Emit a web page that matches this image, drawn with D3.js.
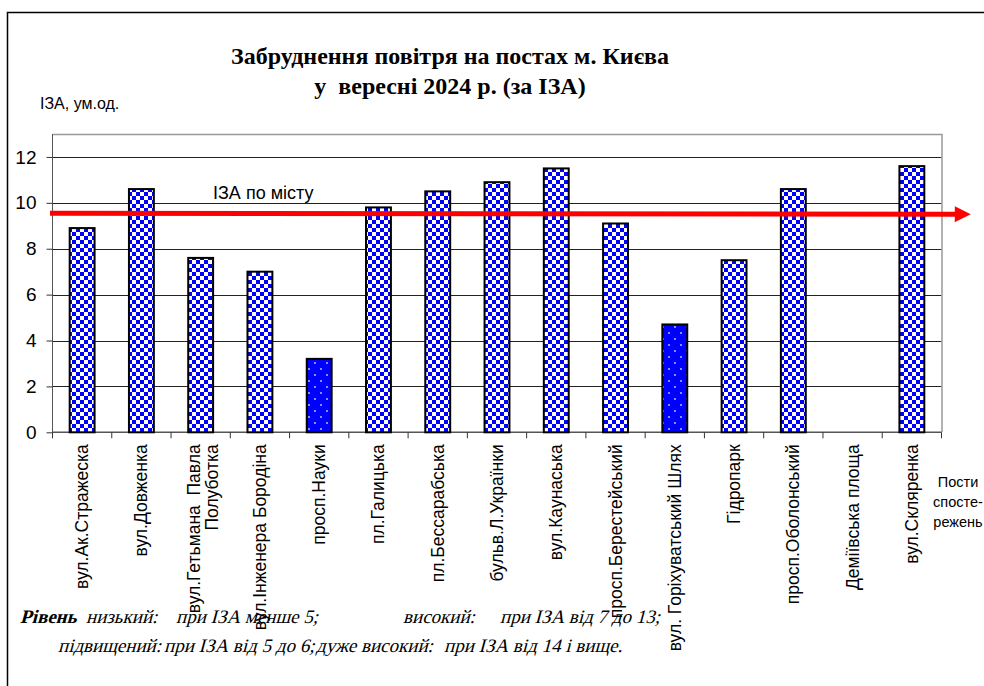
<!DOCTYPE html>
<html lang="uk">
<head>
<meta charset="utf-8">
<title>Забруднення повітря на постах м. Києва</title>
<script src="https://d3js.org/d3.v7.min.js"></script>
<style>
  html, body { margin: 0; padding: 0; background: #fff; }
  svg { display: block; }
  .tl { font-family: "Liberation Sans", Arial, sans-serif; }
  .sr { font-family: "Liberation Serif", "Times New Roman", serif; }
</style>
</head>
<body>
<script>
// пости спостереження
var posts = [
  ["вул.Ак.Стражеска"],
  ["вул.Довженка"],
  ["вул.Гетьмана  Павла", "Полуботка"],
  ["вул.Інженера Бородіна"],
  ["просп.Науки"],
  ["пл.Галицька"],
  ["пл.Бессарабська"],
  ["бульв.Л.Українки"],
  ["вул.Каунаська"],
  ["просп.Берестейський"],
  ["вул. Горіхуватський Шлях"],
  ["Гідропарк"],
  ["просп.Оболонський"],
  ["Деміївська площа"],
  ["вул.Скляренка"]
];
// ІЗА по постах (null - немає даних)
var iza = [8.9, 10.6, 7.6, 7.0, 3.2, 9.8, 10.5, 10.9, 11.5, 9.1, 4.7, 7.5, 10.6, null, 11.6];
// низький рівень - інша штриховка
var lowLevel = [false, false, false, false, true, false, false, false, false, false, true, false, false, false, false];
var izaCity = 9.55;
var yTicks = [0, 2, 4, 6, 8, 10, 12];

var W = 984, H = 686;
var svg = d3.select("body").append("svg").attr("width", W).attr("height", H);

var defs = svg.append("defs");
// шахова клітинка
var chk = defs.append("pattern").attr("id", "chk").attr("patternUnits", "userSpaceOnUse")
  .attr("width", 8).attr("height", 8);
chk.append("rect").attr("width", 8).attr("height", 8).attr("fill", "#fff");
chk.append("rect").attr("width", 4).attr("height", 4).attr("fill", "#0000ff");
chk.append("rect").attr("x", 4).attr("y", 4).attr("width", 4).attr("height", 4).attr("fill", "#0000ff");
// крапки
var dot = defs.append("pattern").attr("id", "dot").attr("patternUnits", "userSpaceOnUse")
  .attr("width", 12).attr("height", 12);
dot.append("rect").attr("width", 12).attr("height", 12).attr("fill", "#0000ff");
dot.append("circle").attr("cx", 3).attr("cy", 3).attr("r", 0.9).attr("fill", "#c8d0ff");
dot.append("circle").attr("cx", 9).attr("cy", 9).attr("r", 0.9).attr("fill", "#c8d0ff");

// рамка
svg.append("path").attr("d", "M7.5,686V12.5H984").attr("fill", "none").attr("stroke", "#000").attr("stroke-width", 1.5);

var x0 = 52.5, x1 = 941.5, yTop = 134;
var x = d3.scaleBand().domain(d3.range(posts.length)).range([x0, x1]).paddingInner(0.58).paddingOuter(0.29);
var y = d3.scaleLinear().domain([0, 13]).range([432.3, yTop]);

// сітка
svg.append("g").selectAll("line").data(yTicks.slice(1)).join("line")
  .attr("x1", x0).attr("x2", x1).attr("y1", d => Math.round(y(d)) + 0.5).attr("y2", d => Math.round(y(d)) + 0.5)
  .attr("stroke", "#222").attr("stroke-width", 1);
// межа області побудови
svg.append("path").attr("d", "M" + x0 + "," + (yTop + 0.5) + "H" + (x1 + 0.5) + "V432")
  .attr("fill", "none").attr("stroke", "#999").attr("stroke-width", 1.5);

// вісь Y
var yAxis = svg.append("g").attr("transform", "translate(" + x0 + ",0)")
  .call(d3.axisLeft(y).tickValues(yTicks).tickSize(6).tickPadding(10));
yAxis.select(".domain").attr("stroke", "#555").attr("d", "M0," + yTop + "V" + y(0));
yAxis.selectAll("line").attr("stroke", "#333");
yAxis.selectAll("text").attr("class", "tl").style("font-size", "19px").attr("fill", "#000");

// вісь X
var bounds = d3.range(posts.length + 1).map(i => x0 + (x1 - x0) * i / posts.length);
svg.append("line").attr("x1", x0).attr("x2", x1).attr("y1", y(0)).attr("y2", y(0)).attr("stroke", "#555").attr("stroke-width", 1.5);
svg.append("g").selectAll("line").data(bounds).join("line")
  .attr("x1", d => d).attr("x2", d => d).attr("y1", y(0)).attr("y2", y(0) + 6)
  .attr("stroke", "#333");

// стовпчики
svg.append("g").selectAll("rect").data(iza.map((v, i) => ({v: v, i: i})).filter(d => d.v !== null)).join("rect")
  .attr("x", d => x(d.i)).attr("width", x.bandwidth())
  .attr("y", d => y(d.v)).attr("height", d => y(0) - y(d.v))
  .attr("fill", d => lowLevel[d.i] ? "url(#dot)" : "url(#chk)")
  .attr("stroke", "#000").attr("stroke-width", 2);

// підписи постів
var lab = svg.append("g").selectAll("text").data(posts).join("text")
  .attr("class", "tl").style("font-size", "17.5px").attr("text-anchor", "end")
  .attr("transform", (d, i) => "translate(" + (x(i) + x.bandwidth() / 2 + (d.length > 1 ? -1 : 6)) + "," + (y(0) + 12) + ") rotate(-90)");
lab.selectAll("tspan").data(d => d).join("tspan")
  .attr("x", 0).attr("dy", (d, j) => j ? 18 : 0)
  .attr("xml:space", "preserve")
  .text(d => d);

// лінія ІЗА по місту
defs.append("marker").attr("id", "arr").attr("viewBox", "0 0 10 10").attr("refX", 2).attr("refY", 5)
  .attr("markerWidth", 3.6).attr("markerHeight", 3.2).attr("orient", "auto").attr("markerUnits", "strokeWidth")
  .append("path").attr("d", "M0,0L10,5L0,10Z").attr("fill", "#ff0000");
svg.append("line").attr("x1", 50).attr("x2", 958).attr("y1", y(izaCity)).attr("y2", y(izaCity) + 1)
  .attr("stroke", "#ff0000").attr("stroke-width", 5).attr("marker-end", "url(#arr)");
svg.append("text").attr("class", "tl").attr("x", 213).attr("y", 199).style("font-size", "18px").text("ІЗА по місту");

// заголовок
var t = svg.append("text").attr("class", "sr").attr("text-anchor", "middle").style("font-size", "24px").style("font-weight", "bold");
t.append("tspan").attr("x", 450).attr("y", 64).text("Забруднення повітря на постах м. Києва");
t.append("tspan").attr("x", 450).attr("y", 94).attr("xml:space", "preserve").text("у  вересні 2024 р. (за ІЗА)");

svg.append("text").attr("class", "tl").attr("x", 40).attr("y", 109).style("font-size", "16px").text("ІЗА, ум.од.");

// назва осі X
var px = svg.append("text").attr("class", "tl").attr("text-anchor", "middle").style("font-size", "14.5px");
["Пости", "спосте-", "режень"].forEach(function (s, i) {
  px.append("tspan").attr("x", 958).attr("y", 487 + i * 20).text(s);
});

// рівні забруднення (нахил через skewX)
var notes = [
  {t: "Рівень", x: 20, y: 623, b: true},
  {t: "низький:", x: 86, y: 623},
  {t: "при ІЗА менше 5;", x: 176, y: 623},
  {t: "високий:", x: 403, y: 623},
  {t: "при ІЗА від 7 до 13;", x: 500, y: 623},
  {t: "підвищений:", x: 58, y: 652},
  {t: "при ІЗА від 5 до 6;", x: 164, y: 652},
  {t: "дуже високий:", x: 316, y: 652},
  {t: "при ІЗА від 14 і вище.", x: 444, y: 652}
];
svg.append("g").selectAll("text").data(notes).join("text")
  .attr("class", "sr")
  .attr("transform", d => "translate(" + d.x + "," + d.y + ") skewX(-15)")
  .style("font-size", "19px")
  .style("font-weight", d => d.b ? "bold" : "normal")
  .text(d => d.t);
</script>
</body>
</html>
